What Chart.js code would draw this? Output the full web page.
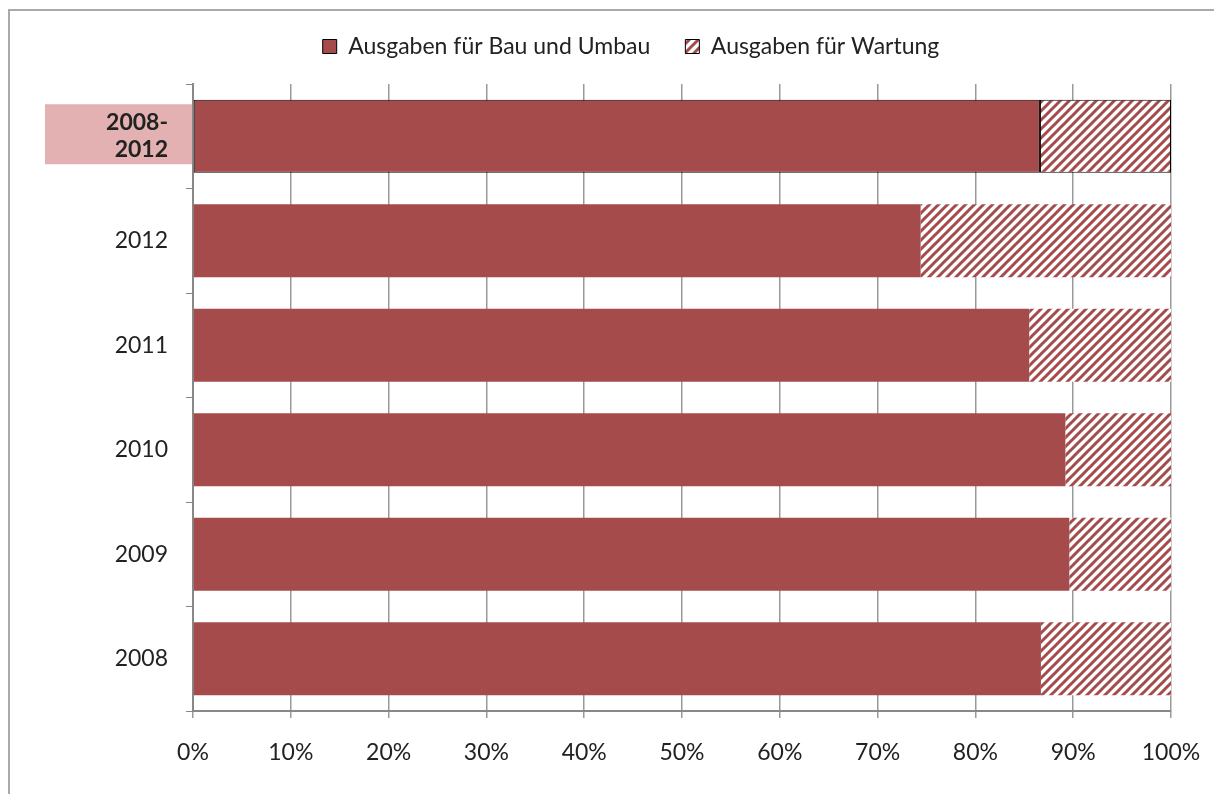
<!DOCTYPE html>
<html>
<head>
<meta charset="utf-8">
<script src="https://cdn.jsdelivr.net/npm/chart.js@4.4.1/dist/chart.umd.min.js"></script>
<style>
  html, body { margin: 0; padding: 0; background: #ffffff; }
  #wrap { width: 1214px; height: 794px; position: relative; }
</style>
</head>
<body>
<div id="wrap"><canvas id="ausgabenChart" width="1214" height="794"></canvas></div>
<script>
// Daten (Anteile in %)
const categories = [['2008-', '2012'], '2012', '2011', '2010', '2009', '2008'];
const bauUmbau = [86.6, 74.4, 85.5, 89.2, 89.6, 86.7];
const wartung = [13.4, 25.6, 14.5, 10.8, 10.4, 13.3];
const xTicks = [0, 10, 20, 30, 40, 50, 60, 70, 80, 90, 100];

const rot = '#a54b4b';
const fontFamily = "'Lato', 'Noto Sans', sans-serif";
const fontSize = 23;

// Schraffur für Wartung
function makeHatch() {
    const size = 9;
    const c = document.createElement('canvas');
    c.width = size;
    c.height = size;
    const g = c.getContext('2d');
    g.fillStyle = '#ffffff';
    g.fillRect(0, 0, size, size);
    g.strokeStyle = rot;
    g.lineWidth = 3;
    g.beginPath();
    g.moveTo(-1, size + 1); g.lineTo(size + 1, -1);
    g.moveTo(-1, 1); g.lineTo(1, -1);
    g.moveTo(size - 1, size + 1); g.lineTo(size + 1, size - 1);
    g.stroke();
    return g.createPattern(c, 'repeat');
}
const hatch = makeHatch();

// Rahmen oben/links und rosa Feld hinter der ersten Kategorie
const decoPlugin = {
    id: 'deco',
    beforeDraw(chart) {
        const ctx = chart.ctx;
        const yScale = chart.scales.y;
        const yc = yScale.getPixelForTick(0);
        ctx.save();
        ctx.fillStyle = '#ffffff';
        ctx.fillRect(0, 0, chart.width, chart.height);
        ctx.fillStyle = '#e3b1b1';
        ctx.fillRect(45, yc - 32, chart.chartArea.left - 45, 60);
        ctx.strokeStyle = '#aaaaaa';
        ctx.lineWidth = 2;
        ctx.beginPath();
        ctx.moveTo(9, chart.height);
        ctx.lineTo(9, 10);
        ctx.lineTo(chart.width, 10);
        ctx.stroke();
        ctx.restore();
    }
};

const ctx = document.getElementById('ausgabenChart').getContext('2d');
new Chart(ctx, {
    type: 'bar',
    data: {
        labels: categories,
        datasets: [
            {
                label: 'Ausgaben für Bau und Umbau',
                data: bauUmbau,
                backgroundColor: rot,
                borderColor: '#000000',
                borderWidth: c => c.dataIndex === 0 ? 1 : 0,
                borderSkipped: false
            },
            {
                label: 'Ausgaben für Wartung',
                data: wartung,
                backgroundColor: hatch,
                borderColor: '#000000',
                borderWidth: c => c.dataIndex === 0 ? 1 : 0,
                borderSkipped: false
            }
        ]
    },
    options: {
        indexAxis: 'y',
        responsive: false,
        animation: false,
        layout: { padding: { left: 91, right: 43, top: 0, bottom: 0 } },
        datasets: { bar: { barPercentage: 0.7, categoryPercentage: 1.0 } },
        plugins: {
            legend: {
                position: 'top',
                labels: {
                    boxWidth: 14,
                    boxHeight: 14,
                    padding: 35,
                    color: '#222222',
                    font: { family: fontFamily, size: fontSize }
                }
            },
            tooltip: { enabled: false }
        },
        scales: {
            x: {
                stacked: true,
                min: 0,
                max: 100,
                afterFit: s => { s.height = 83; s.paddingRight = 0; s.paddingLeft = 0; },
                afterBuildTicks: s => { s.ticks = xTicks.map(v => ({ value: v })); },
                ticks: {
                    padding: 21,
                    color: '#222222',
                    font: { family: fontFamily, size: fontSize },
                    callback: v => v + '%'
                },
                grid: { color: '#999999', lineWidth: 1.5, tickLength: 7 },
                border: { color: '#888888', width: 2 }
            },
            // leere Achse oben: Abstand zwischen Legende und Diagramm
            xTop: {
                type: 'linear',
                position: 'top',
                min: 0,
                max: 100,
                afterFit: s => { s.height = 16; s.paddingRight = 0; s.paddingLeft = 0; },
                ticks: { display: false },
                grid: { display: false },
                border: { display: false }
            },
            y: {
                stacked: true,
                afterFit: s => { s.width = 193 - 91; },
                ticks: {
                    padding: 18,
                    color: '#222222',
                    font: c => c.index === 0
                        ? { family: fontFamily, size: fontSize, weight: 'bold' }
                        : { family: fontFamily, size: fontSize }
                },
                grid: { offset: true, drawOnChartArea: false, color: '#888888', tickLength: 7 },
                border: { color: '#888888', width: 2 }
            }
        }
    },
    plugins: [decoPlugin]
});
</script>
</body>
</html>
